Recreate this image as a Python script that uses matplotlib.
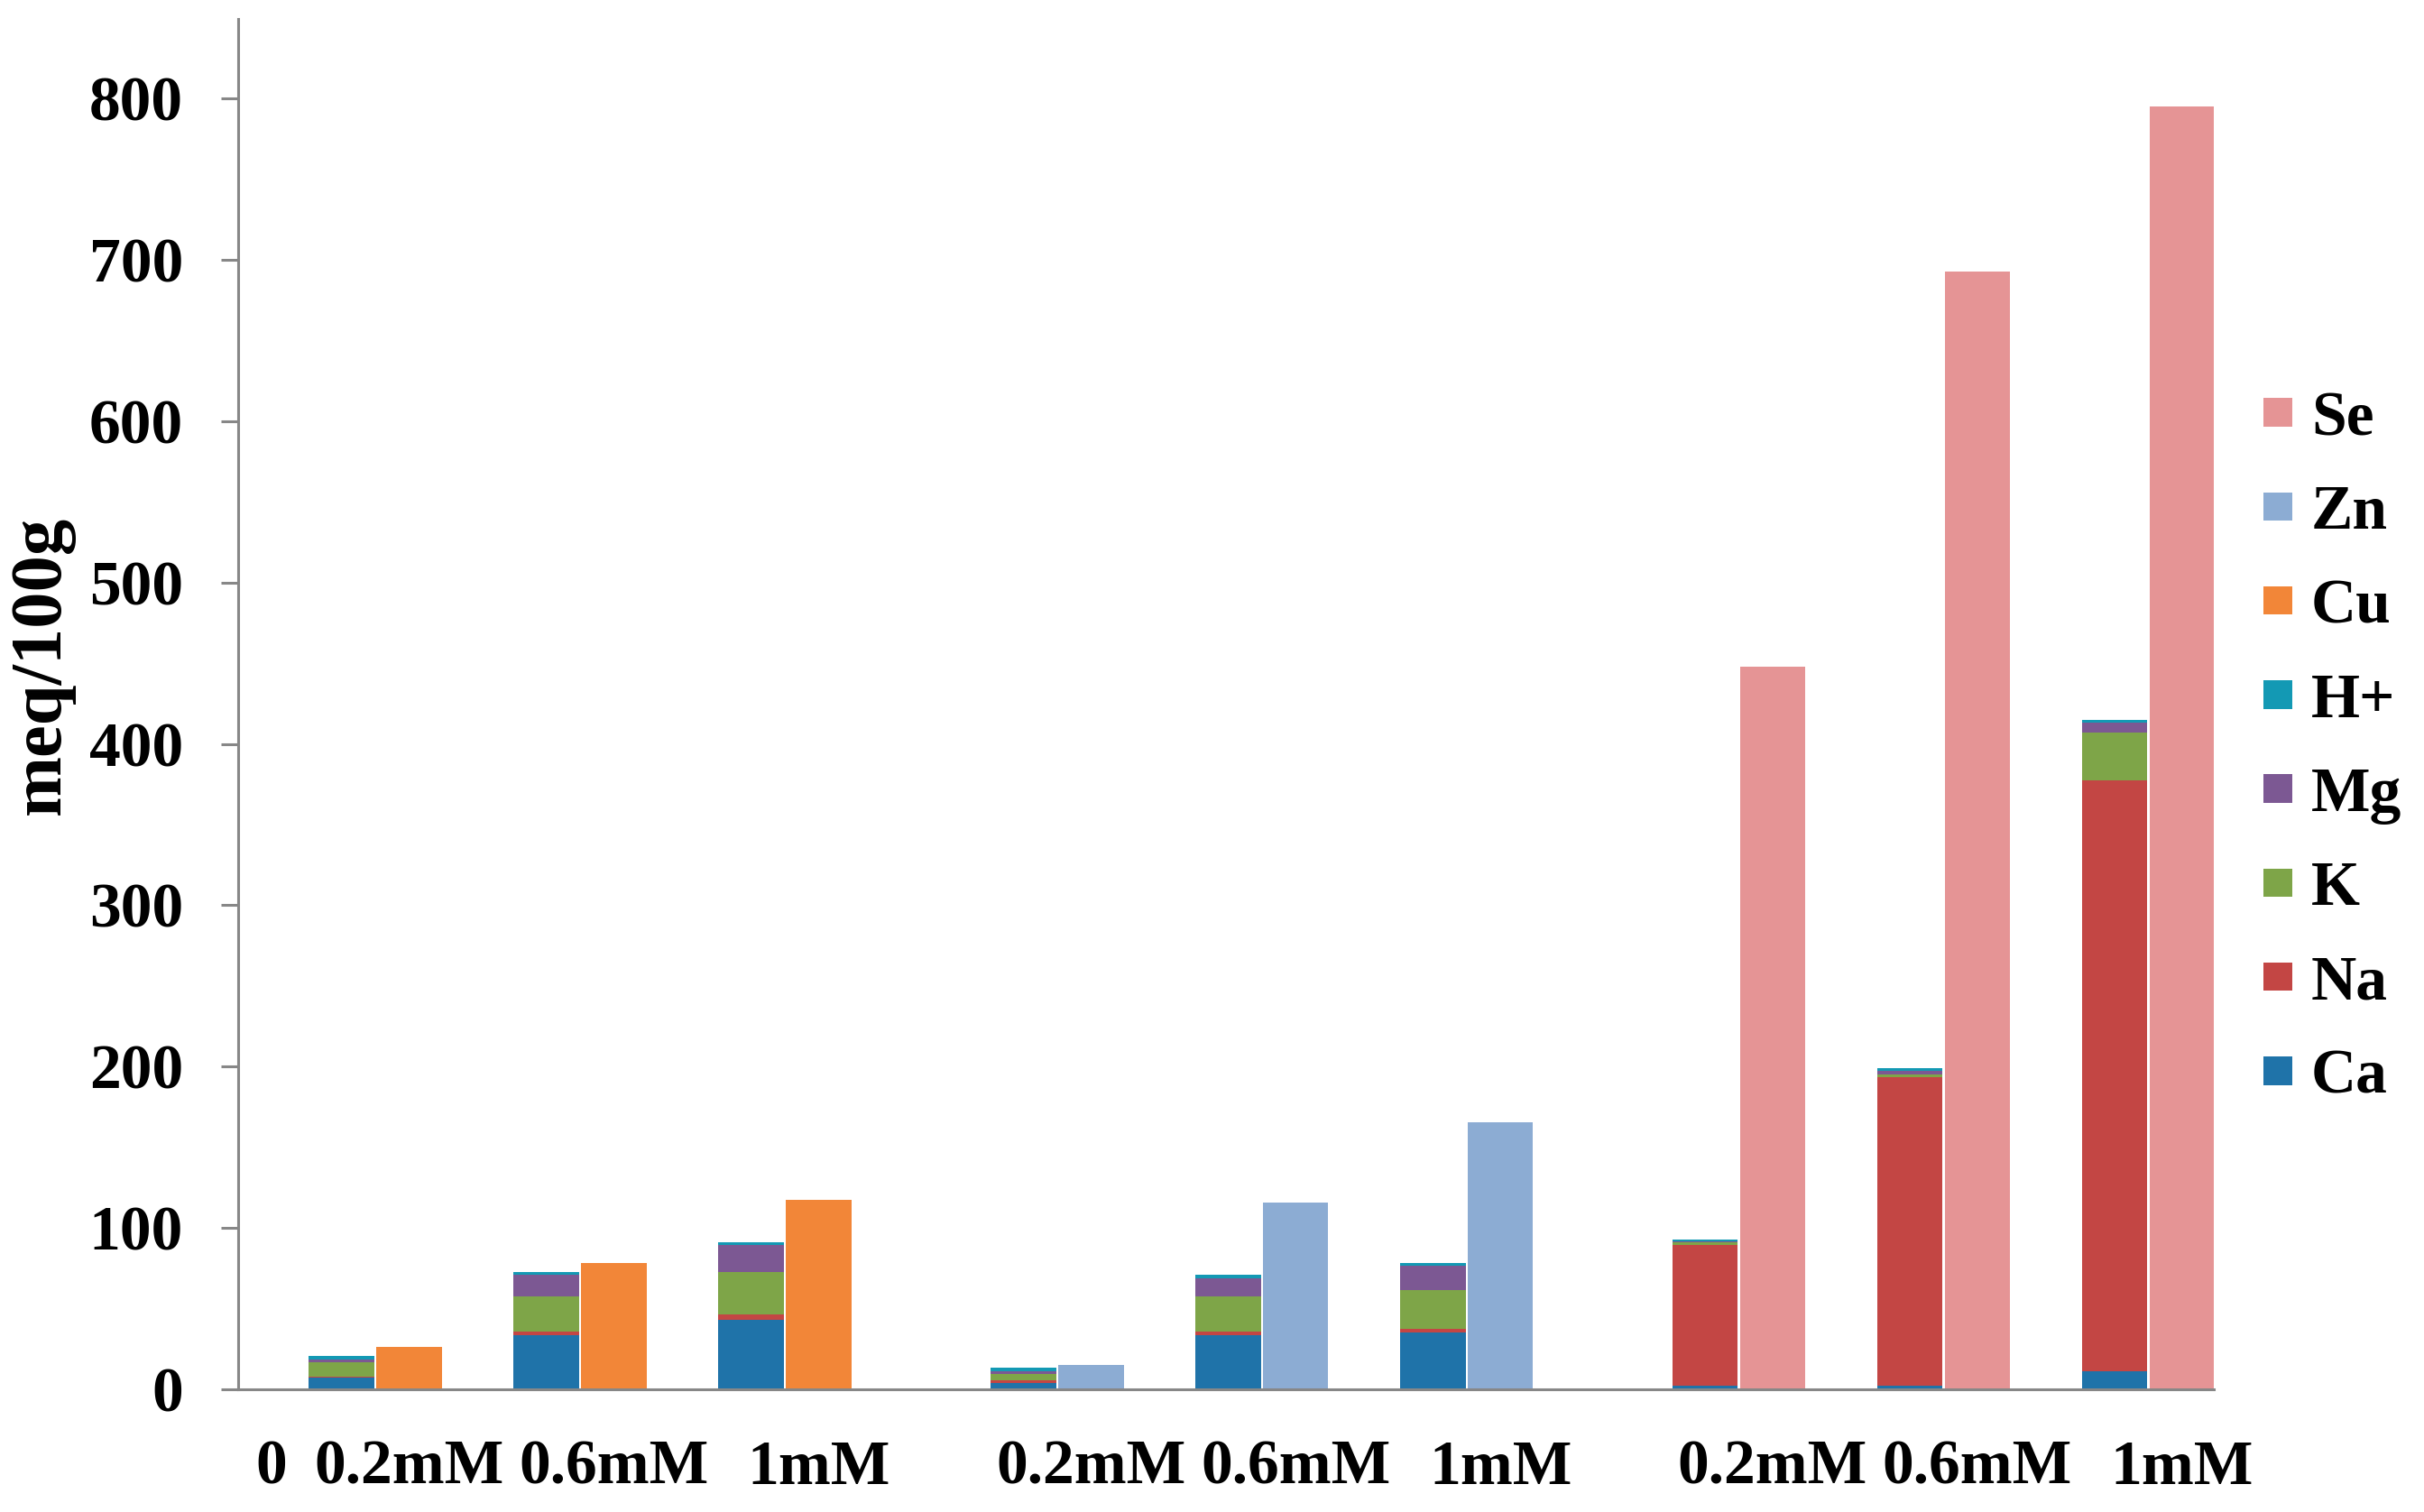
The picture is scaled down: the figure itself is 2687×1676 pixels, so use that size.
import matplotlib
matplotlib.use("Agg")
import matplotlib.pyplot as plt
from matplotlib.patches import Patch
import numpy as np

# data (meq/100g)
labels = ["0.2mM", "0.6mM", "1mM", "0.2mM", "0.6mM", "1mM", "0.2mM", "0.6mM", "1mM"]
ca = [7.4, 33.5, 42.9, 3.7, 33.5, 35.4, 2.2, 2.2, 11.4]
na = [0.5, 2.1, 3.7, 2.1, 2.1, 2.1, 87.1, 191.1, 366.1]
k = [9.0, 22.2, 26.1, 3.7, 22.2, 24.0, 1.7, 2.1, 29.8]
mg = [1.7, 13.0, 16.8, 1.9, 11.2, 14.9, 0.5, 1.9, 5.6]
h = [2.1, 1.9, 1.9, 2.0, 1.8, 1.9, 1.5, 2.0, 1.7]
cu = [26.3, 78.3, 117.2]
zn = [15.1, 115.6, 165.6]
se = [447.7, 693.0, 795.3]

# layout (pair positions along x)
pairs = np.array([0.67, 1.67, 2.67, 4.0, 5.0, 6.0, 7.33, 8.33, 9.33])
w = 0.32

col = {"Ca": "#1f73a9", "Na": "#c34644", "K": "#7ea548", "Mg": "#7c5893",
       "H+": "#1399b4", "Cu": "#f28638", "Zn": "#8cacd3", "Se": "#e59495"}

plt.rcParams['font.family'] = ['Liberation Serif', 'DejaVu Serif']
plt.rcParams['font.weight'] = 'bold'

fig = plt.figure(figsize=(26.87, 16.76), dpi=100)
ax = fig.add_axes([264 / 2687, 136 / 1676, (2454 - 264) / 2687, (1540 - 20.6) / 1676])

xs = pairs - 0.165
bottom = np.zeros(len(xs))
for name, vals in [("Ca", ca), ("Na", na), ("K", k), ("Mg", mg), ("H+", h)]:
    ax.bar(xs, vals, w, bottom=bottom, color=col[name], linewidth=0)
    bottom += np.array(vals)

ax.bar(pairs[0:3] + 0.165, cu, w, color=col["Cu"], linewidth=0)
ax.bar(pairs[3:6] + 0.165, zn, w, color=col["Zn"], linewidth=0)
ax.bar(pairs[6:9] + 0.165, se, w, color=col["Se"], linewidth=0)

ax.set_xlim(0, 9.65)
ax.set_ylim(0, 849.5)
ax.set_yticks(range(0, 801, 100))
ax.set_xticks([0.16] + list(pairs + 0.165))
ax.set_xticklabels(["0"] + labels)

for s in ["top", "right"]:
    ax.spines[s].set_visible(False)
for s in ["left", "bottom"]:
    ax.spines[s].set_color("#878787")
    ax.spines[s].set_linewidth(2.2)

ax.tick_params(axis="y", direction="out", length=14, width=2.2, color="#878787",
               labelsize=50, pad=30)
ax.tick_params(axis="x", length=0, labelsize=50, pad=40)
ax.set_ylabel("meq/100g", fontsize=58, fontweight="bold")
ax.yaxis.set_label_coords(-0.0826, 0.5285)

order = ["Se", "Zn", "Cu", "H+", "Mg", "K", "Na", "Ca"]
handles = [Patch(facecolor=col[n], edgecolor="none") for n in order]
fig.legend(handles, order, loc="center left", bbox_to_anchor=(2509 / 2687, 1 - 830 / 1676),
           frameon=False, fontsize=50, handlelength=0.46, handleheight=0.32,
           handletextpad=0.3, labelspacing=0.58, borderpad=0, borderaxespad=0)

fig.savefig("out.png", dpi=100)
